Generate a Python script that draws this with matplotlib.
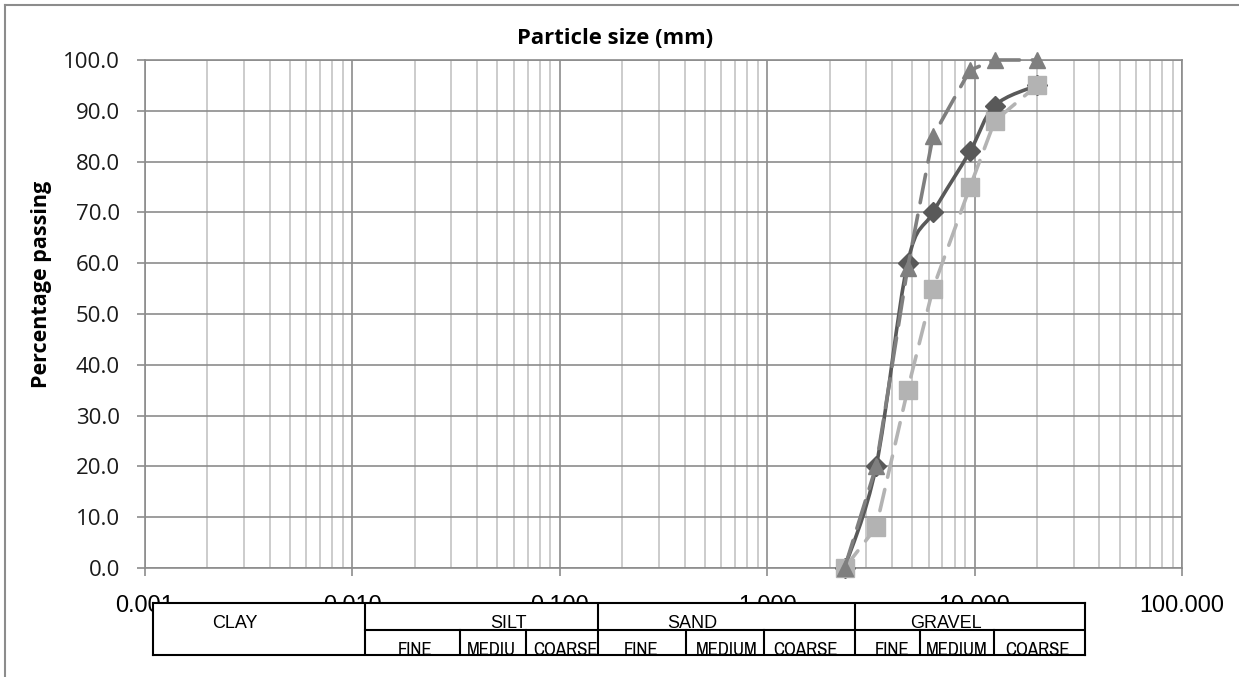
import matplotlib
matplotlib.use("agg")
import matplotlib.pyplot as plt
from matplotlib import font_manager
from matplotlib.path import Path
from matplotlib.patches import PathPatch
from matplotlib.ticker import LogLocator, FormatStrFormatter, MultipleLocator
import numpy as np

# sieve sizes (mm) and percentage passing for the three samples
sieve_mm = [2.36, 3.35, 4.75, 6.3, 9.5, 12.5, 20.0]
sample_a = [0.0, 20.0, 60.0, 70.0, 82.0, 91.0, 95.0]   # dark diamonds, smoothed
sample_b = [0.0, 8.0, 35.0, 55.0, 75.0, 88.0, 95.0]    # light squares, dashed
sample_c = [0.0, 20.0, 59.0, 85.0, 98.0, 100.0, 100.0]  # triangles, long dash

x_ticks = [0.001, 0.01, 0.1, 1.0, 10.0, 100.0]

soil_groups = ["CLAY", "SILT", "SAND", "GRAVEL"]
sub_groups = ["FINE", "MEDIU", "COARSE", "FINE", "MEDIUM", "COARSE",
              "FINE", "MEDIUM", "COARSE"]

W, H = 1239, 677
fig = plt.figure(figsize=(W / 100, H / 100), dpi=100)


def px_axes(x0, y0, x1, y1):
    return fig.add_axes([x0 / W, 1 - y1 / H, (x1 - x0) / W, (y1 - y0) / H])


# pick a narrow face for the sub-class labels if one is installed
narrow_font, narrow_size = "Roboto", 11.5
for f in font_manager.fontManager.ttflist:
    if ("Narrow" in f.name or "Condensed" in f.name) and "Mono" not in f.name:
        narrow_font, narrow_size = f.name, 13.5
        break

# outer chart border (left and top only visible)
fig.add_artist(plt.Line2D([5 / W, 5 / W], [0, 1 - 5 / H], color="#8c8c8c", lw=1.5))
fig.add_artist(plt.Line2D([5 / W, 1], [1 - 5 / H, 1 - 5 / H], color="#8c8c8c", lw=1.5))

ax = px_axes(145, 60, 1182, 568)
ax.set_xscale("log")
ax.set_xlim(0.001, 100)
ax.set_ylim(0, 100)

grid_major = "#8c8c8c"
grid_minor = "#c4c4c4"
ax.xaxis.set_minor_locator(LogLocator(base=10, subs=np.arange(2, 10), numticks=10))
ax.set_xticks(x_ticks)
ax.xaxis.set_major_formatter(FormatStrFormatter("%.3f"))
ax.yaxis.set_major_locator(MultipleLocator(10))
ax.yaxis.set_major_formatter(FormatStrFormatter("%.1f"))
ax.grid(which="major", axis="both", color=grid_major, lw=1.2)
ax.grid(which="minor", axis="x", color=grid_minor, lw=1.2)
ax.set_axisbelow(True)
for s in ax.spines.values():
    s.set_color(grid_major)
    s.set_linewidth(1.2)

ax.tick_params(axis="x", which="major", direction="out", length=6, width=1.2,
               color=grid_major, pad=13)
ax.tick_params(axis="x", which="minor", length=0)
ax.tick_params(axis="y", which="major", direction="out", length=6, width=1.2,
               color=grid_major, pad=12)
for lab in ax.get_xticklabels():
    lab.set_fontfamily("Liberation Sans")
    lab.set_fontsize(16.8)
for lab in ax.get_yticklabels():
    lab.set_fontfamily("Open Sans")
    lab.set_fontsize(16)
    lab.set_color("#1a1a1a")

fig.text(615 / W, 1 - 39 / H, "Particle size (mm)", ha="center", va="center",
         fontfamily="Open Sans", fontweight="bold", fontsize=15.8)
fig.text(42 / W, 1 - 284 / H, "Percentage passing", ha="center", va="center",
         rotation=90, fontfamily="Open Sans", fontweight="bold", fontsize=15.5)

c_a, c_b, c_c = "#595959", "#b3b3b3", "#7f7f7f"

# smoothed curve (Catmull-Rom as cubic Bezier in log-x space, scaled to pixels)
u = np.log10(sieve_mm) * 207.4
v = np.array(sample_a) * 5.08
pts = np.column_stack([u, v])
verts = [pts[0]]
codes = [Path.MOVETO]
n = len(pts)
for i in range(n - 1):
    p0 = pts[max(i - 1, 0)]
    p1 = pts[i]
    p2 = pts[i + 1]
    p3 = pts[min(i + 2, n - 1)]
    verts += [p1 + (p2 - p0) / 6, p2 - (p3 - p1) / 6, p2]
    codes += [Path.CURVE4] * 3
verts = np.array(verts)
verts = np.column_stack([10 ** (verts[:, 0] / 207.4), verts[:, 1] / 5.08])
ax.add_patch(PathPatch(Path(verts, codes), fill=False, edgecolor=c_a, lw=2.6,
                       capstyle="round", zorder=3, clip_on=False))
ax.plot(sieve_mm, sample_a, ls="none", marker="D", ms=10.5, color=c_a, zorder=4,
        clip_on=False)

ax.plot(sieve_mm, sample_b, color=c_b, lw=2.6, dashes=(6, 3.5),
        dash_capstyle="round", marker="s", ms=13, zorder=5, clip_on=False)
ax.plot(sieve_mm, sample_c, color=c_c, lw=2.6, dashes=(8, 3.5),
        dash_capstyle="round", marker="^", ms=12, zorder=6, clip_on=False)

# soil classification table under the axis
tx0, ty0, tx1, ty1 = 153, 603, 1085, 655
tab = px_axes(tx0, ty0, tx1, ty1)
tab.set_xlim(tx0, tx1)
tab.set_ylim(ty1, ty0)
tab.set_facecolor("white")
for s in tab.spines.values():
    s.set_color("black")
    s.set_linewidth(1.5)
tab.set_xticks([])
tab.set_yticks([])

main_edges = [365, 598, 855]
sub_edges = [460, 526, 686, 764, 920, 994]
for e in main_edges:
    tab.plot([e, e], [ty0, ty1], color="black", lw=1.5)
for e in sub_edges:
    tab.plot([e, e], [630, ty1], color="black", lw=1.5)
tab.plot([365, tx1], [630, 630], color="black", lw=1.5)

main_x = [235, 508, 692, 946]
for name, xc in zip(soil_groups, main_x):
    tab.text(xc, 628, name, ha="center", va="baseline",
             fontfamily="Liberation Sans", fontsize=13)
sub_x = [415, 491, 565, 641, 727, 806, 892, 957, 1037]
for name, xc in zip(sub_groups, sub_x):
    tab.text(xc, 655, name, ha="center", va="baseline", clip_on=True,
             fontfamily=[narrow_font, "DejaVu Sans"], fontsize=narrow_size)

fig.savefig("out.png", dpi=100)
